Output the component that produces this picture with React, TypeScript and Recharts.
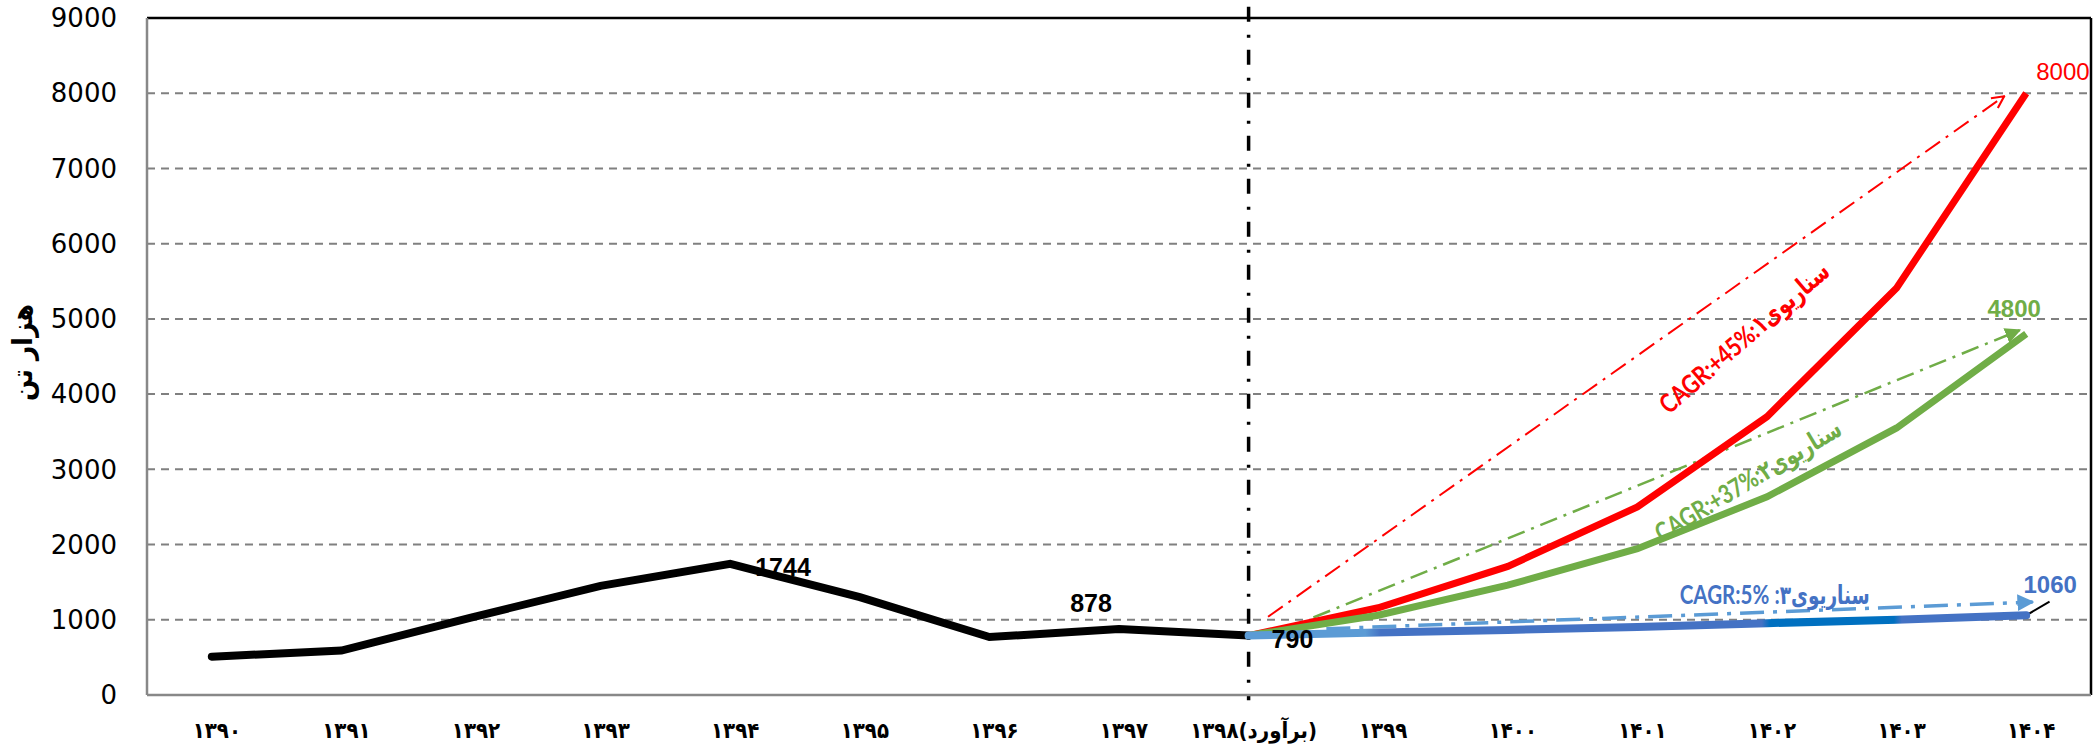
import React from 'react';
import { LineChart, Line, XAxis, YAxis, CartesianGrid, ReferenceLine, ReferenceDot, Label } from 'recharts';

// categories on the x axis (solar hijri years)
const years = [1390, 1391, 1392, 1393, 1394, 1395, 1396, 1397, 1398, 1399, 1400, 1401, 1402, 1403, 1404];
const xTickLabels = ['۱۳۹۰', '۱۳۹۱', '۱۳۹۲', '۱۳۹۳', '۱۳۹۴', '۱۳۹۵', '۱۳۹۶', '۱۳۹۷', '۱۳۹۸(برآورد)', '۱۳۹۹', '۱۴۰۰', '۱۴۰۱', '۱۴۰۲', '۱۴۰۳', '۱۴۰۴'];
const yTicks = [0, 1000, 2000, 3000, 4000, 5000, 6000, 7000, 8000, 9000];

// actual values 1390..1398
const historyYears = [1390, 1391, 1392, 1393, 1394, 1395, 1396, 1397, 1398];
const historyValues = [510, 590, 1030, 1450, 1744, 1300, 770, 878, 790];

// forecast 1398..1404
const forecastYears = [1398, 1399, 1400, 1401, 1402, 1403, 1404];
const scenario1 = [790, 1160, 1710, 2500, 3700, 5410, 8000];
const scenario2 = [790, 1060, 1460, 1945, 2635, 3550, 4800];
const scenario3 = [790, 830, 865, 905, 955, 1000, 1060];

// dash-dot CAGR trend arrows (start, end)
const trend1Years = [1398.15, 1403.83];
const trend1Values = [1040, 7960];
const trend2Years = [1398.5, 1403.95];
const trend2Values = [1030, 4850];
const trend3Years = [1398.6, 1404.05];
const trend3Values = [880, 1235];

const noteTexts = ['CAGR:+45%:۱سناریوی', 'CAGR:+37%:۲سناریوی', 'CAGR:5% :۳سناریوی'];
const yAxisTitle = 'هزار تن';

const toPoints = (xs: number[], vs: number[]) => xs.map((year, i) => ({ year, value: vs[i] }));

const history = toPoints(historyYears, historyValues);
const s1 = toPoints(forecastYears, scenario1);
const s2 = toPoints(forecastYears, scenario2);
const s3 = toPoints(forecastYears, scenario3);
const t1 = toPoints(trend1Years, trend1Values);
const t2 = toPoints(trend2Years, trend2Values);
const t3 = toPoints(trend3Years, trend3Values);

const RED = '#FF0000';
const GREEN = '#70AD47';
const BLUE = '#4472C4';
const LIGHT_BLUE = '#5B9BD5';

const TICK_FONT = "'DejaVu Sans', sans-serif";
const FA_FONT = "'DejaVu Sans Condensed', 'DejaVu Sans', sans-serif";
const NUM_FONT = "'Liberation Sans', sans-serif";
const NOTE_FONT = "Lato, 'DejaVu Sans Condensed', sans-serif";

const XTick = (props: any) => {
  const { x, y, payload } = props;
  const idx = years.indexOf(payload.value);
  return (
    <text x={x + 5} y={y + 41} textAnchor="middle" fontFamily={FA_FONT} fontWeight="bold" fontSize={22} fill="#000">
      {xTickLabels[idx]}
    </text>
  );
};

const historyLabel = (p: any) => {
  const { x, y, index, value } = p;
  const common = { fontFamily: NUM_FONT, fontWeight: 'bold' as const, fontSize: 25, fill: '#000' };
  if (index === 4) return <text key="h4" x={x + 25} y={y + 12} textAnchor="start" {...common}>{value}</text>;
  if (index === 7) return <text key="h7" x={x - 28} y={y - 17} textAnchor="middle" {...common}>{value}</text>;
  if (index === 8) return <text key="h8" x={x + 23} y={y + 12} textAnchor="start" {...common}>{value}</text>;
  return null;
};

const s1Label = (p: any) => {
  const { x, y, index, value } = p;
  if (index !== scenario1.length - 1) return null;
  return <text key="s1" x={x + 10} y={y - 13} textAnchor="start" fontFamily={NUM_FONT} fontSize={24} fill={RED}>{value}</text>;
};

const s2Label = (p: any) => {
  const { x, y, index, value } = p;
  if (index !== scenario2.length - 1) return null;
  return <text key="s2" x={x - 12} y={y - 17} textAnchor="middle" fontFamily={NUM_FONT} fontWeight="bold" fontSize={24} fill={GREEN}>{value}</text>;
};

const s3Label = (p: any) => {
  const { x, y, index, value } = p;
  if (index !== scenario3.length - 1) return null;
  return <text key="s3" x={x + 24} y={y - 22} textAnchor="middle" fontFamily={NUM_FONT} fontWeight="bold" fontSize={24} fill={BLUE}>{value}</text>;
};

const noteShape = (text: string, color: string, angle: number, length: number) => (p: any) => (
  <text
    x={p.cx}
    y={p.cy}
    textAnchor="middle"
    dominantBaseline="central"
    transform={`rotate(${angle} ${p.cx} ${p.cy})`}
    fontFamily={NOTE_FONT}
    fontWeight="bold"
    fontSize={26}
    fill={color}
    textLength={length}
    lengthAdjust="spacingAndGlyphs"
  >
    {text}
  </text>
);

const YTitle = (props: any) => {
  const { viewBox } = props;
  const cx = viewBox.x + 22;
  const cy = viewBox.y + viewBox.height / 2 - 4;
  return (
    <text x={cx} y={cy} textAnchor="middle" dominantBaseline="central" transform={`rotate(-90 ${cx} ${cy})`}
      fontFamily={FA_FONT} fontWeight="bold" fontSize={28} fill="#000">
      {yAxisTitle}
    </text>
  );
};

export default function App() {
  return (
    <div style={{ position: 'absolute', left: 0, top: 0, width: 2094, height: 744, background: '#fff' }}>
      <svg width={0} height={0} style={{ position: 'absolute' }}>
        <defs>
          <marker id="arrRed" viewBox="0 0 10 10" refX={9} refY={5} markerWidth={15} markerHeight={15} markerUnits="userSpaceOnUse" orient="auto">
            <path d="M1,1 L9,5 L1,9" fill="none" stroke={RED} strokeWidth={1.4} />
          </marker>
          <marker id="arrGreen" viewBox="0 0 10 10" refX={9} refY={5} markerWidth={16} markerHeight={16} markerUnits="userSpaceOnUse" orient="auto">
            <path d="M0,0 L10,5 L0,10 Z" fill={GREEN} />
          </marker>
          <marker id="arrBlue" viewBox="0 0 10 10" refX={9} refY={5} markerWidth={17} markerHeight={17} markerUnits="userSpaceOnUse" orient="auto">
            <path d="M0,0 L10,5 L0,10 Z" fill={LIGHT_BLUE} />
          </marker>
          <linearGradient id="blueGrad" x1="0" y1="0" x2="1" y2="0">
            <stop offset="0" stopColor={LIGHT_BLUE} />
            <stop offset="0.15" stopColor={LIGHT_BLUE} />
            <stop offset="0.17" stopColor={BLUE} />
            <stop offset="0.66" stopColor={BLUE} />
            <stop offset="0.67" stopColor="#0070C0" />
            <stop offset="0.83" stopColor="#0070C0" />
            <stop offset="0.84" stopColor={BLUE} />
            <stop offset="1" stopColor={BLUE} />
          </linearGradient>
        </defs>
      </svg>
      <LineChart width={2094} height={744} margin={{ top: 18, right: 3, bottom: 0, left: 0 }}>
        <CartesianGrid vertical={false} stroke="#808080" strokeWidth={2} strokeDasharray="8 6" />
        <XAxis
          dataKey="year"
          type="number"
          domain={[1389.5, 1404.5]}
          ticks={years}
          interval={0}
          height={49}
          tickSize={0}
          tick={<XTick />}
          axisLine={{ stroke: '#888888', strokeWidth: 2.5 }}
          tickLine={false}
        />
        <YAxis
          type="number"
          domain={[0, 9000]}
          ticks={yTicks}
          width={147}
          tickSize={0}
          tickMargin={30}
          tick={{ fill: '#000', fontSize: 26, fontFamily: TICK_FONT }}
          axisLine={{ stroke: '#888888', strokeWidth: 2.5 }}
          tickLine={false}
        >
          <Label content={<YTitle />} />
        </YAxis>
        <ReferenceLine y={9000} stroke="#000" strokeWidth={2.5} />
        <ReferenceLine x={1404.5} stroke="#000" strokeWidth={2.5} />
        <ReferenceLine
          segment={[{ x: 1398, y: 9150 }, { x: 1398, y: -70 }]}
          ifOverflow="visible"
          stroke="#000"
          strokeWidth={3.5}
          strokeDasharray="15 13 3 12"
        />
        <ReferenceLine
          segment={[{ x: 1404, y: 1060 }, { x: 1404.18, y: 1240 }]}
          ifOverflow="visible"
          stroke="#000"
          strokeWidth={2}
        />

        <Line data={t1} dataKey="value" type="linear" stroke={RED} strokeWidth={2} strokeDasharray="18 7 3 7" dot={false} activeDot={false} markerEnd="url(#arrRed)" isAnimationActive={false} />
        <Line data={t2} dataKey="value" type="linear" stroke={GREEN} strokeWidth={2.5} strokeDasharray="18 7 3 7" dot={false} activeDot={false} markerEnd="url(#arrGreen)" isAnimationActive={false} />
        <Line data={t3} dataKey="value" type="linear" stroke={LIGHT_BLUE} strokeWidth={3.5} strokeDasharray="24 9 4 9" dot={false} activeDot={false} markerEnd="url(#arrBlue)" isAnimationActive={false} />

        <Line data={history} dataKey="value" type="linear" stroke="#000" strokeWidth={8} strokeLinecap="round" dot={false} activeDot={false} label={historyLabel} isAnimationActive={false} />
        <Line data={s1} dataKey="value" type="linear" stroke={RED} strokeWidth={7} dot={false} activeDot={false} label={s1Label} isAnimationActive={false} />
        <Line data={s2} dataKey="value" type="linear" stroke={GREEN} strokeWidth={7} dot={false} activeDot={false} label={s2Label} isAnimationActive={false} />
        <Line data={s3} dataKey="value" type="linear" stroke="url(#blueGrad)" strokeWidth={8} strokeLinecap="round" dot={false} activeDot={false} label={s3Label} isAnimationActive={false} />

        <ReferenceDot x={1401.82} y={4760} shape={noteShape(noteTexts[0], RED, -41, 215)} />
        <ReferenceDot x={1401.85} y={2860} shape={noteShape(noteTexts[1], GREEN, -31, 212)} />
        <ReferenceDot x={1402.06} y={1343} shape={noteShape(noteTexts[2], BLUE, 0, 190)} />
      </LineChart>
    </div>
  );
}
